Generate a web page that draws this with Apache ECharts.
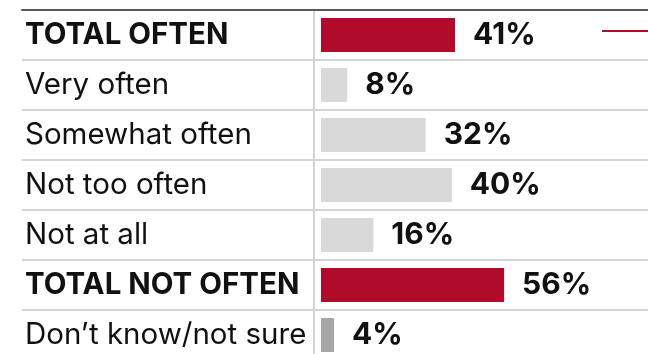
<!DOCTYPE html>
<html>
<head>
<meta charset="utf-8">
<script src="https://cdn.jsdelivr.net/npm/echarts@6/dist/echarts.min.js"></script>
<style>html,body{margin:0;padding:0;background:#fff;overflow:hidden}#c{width:648px;height:360px}</style>
</head>
<body>
<div id="c"></div>
<script>
const categories = ['TOTAL OFTEN','Very often','Somewhat often','Not too often','Not at all','TOTAL NOT OFTEN','Don\u2019t know/not sure'];
const values = [41, 8, 32, 40, 16, 56, 4];
const rowType = ['total','item','item','item','item','total','unsure'];

const colorMap = {total:'#B00B2A', item:'#D9D9D9', unsure:'#A6A6A6'};
const FONT = 'Inter, "Noto Sans", sans-serif';
const FS = 29.5;

const chart = echarts.init(document.getElementById('c'), null, {renderer:'canvas'});
chart.setOption({
  animation:false,
  grid:[
    {left:22, right:0, top:10, bottom:0},
    {left:321, right:-4, top:10, bottom:0},
    {left:314, width:5, top:10, bottom:0}
  ],
  xAxis:[
    {gridIndex:0, type:'value', position:'top', min:0, max:1,
     axisLine:{show:true, onZero:false, lineStyle:{color:'#5a5a5a', width:2}},
     axisTick:{show:false}, axisLabel:{show:false}, splitLine:{show:false}},
    {gridIndex:1, type:'value', min:0, max:100, show:false},
    {gridIndex:2, type:'value', min:0, max:1, show:false}
  ],
  yAxis:[
    {gridIndex:0, type:'category', data:categories, inverse:true,
     axisLine:{show:false}, axisTick:{show:false}, axisLabel:{show:false},
     splitLine:{show:true, lineStyle:{color:'#d3d3d3', width:2}}},
    {gridIndex:1, type:'category', data:categories, inverse:true,
     axisLine:{show:false}, axisTick:{show:false},
     axisLabel:{margin:296, align:'left', fontFamily:FONT, fontSize:FS, color:'#111',
       formatter:(v,i)=> rowType[i]==='total' ? '{b|'+v+'}' : '{n|'+v+'}',
       rich:{b:{fontFamily:FONT, fontSize:FS, fontWeight:'bold', color:'#111'},
             n:{fontFamily:FONT, fontSize:FS, color:'#111'}}}},
    {gridIndex:2, type:'category', data:categories, inverse:true,
     axisLine:{show:true, lineStyle:{color:'#d3d3d3', width:2}},
     axisTick:{show:false}, axisLabel:{show:false}}
  ],
  series:[{
    type:'bar', xAxisIndex:1, yAxisIndex:1, barWidth:34,
    data: values.map((v,i)=>({value:v, itemStyle:{color:colorMap[rowType[i]]}})),
    label:{show:true, position:'right', distance:18, formatter:'{c}%',
      fontFamily:FONT, fontSize:30, fontWeight:'bold', color:'#111'}
  }],
  graphic:[
    {type:'line', shape:{x1:602, y1:31, x2:648, y2:31}, style:{stroke:'#B00B2A', lineWidth:2}}
  ]
});
</script>
</body>
</html>
